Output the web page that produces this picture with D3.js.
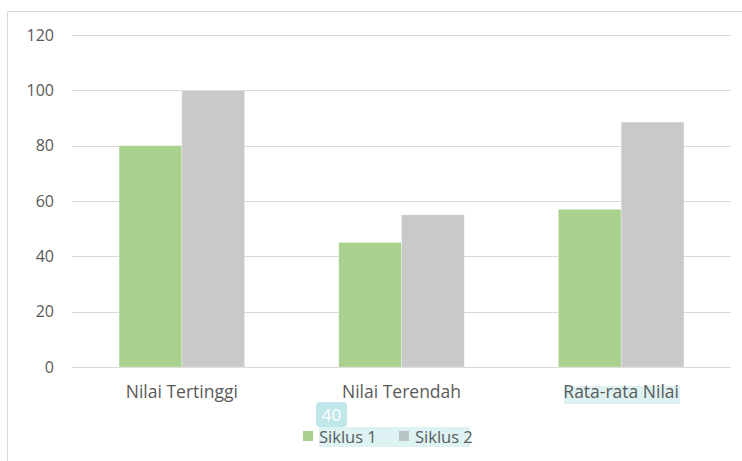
<!DOCTYPE html>
<html>
<head>
<meta charset="utf-8">
<script src="https://cdn.jsdelivr.net/npm/d3@7"></script>
<style>
  body { margin: 0; background: #fff; }
  svg { display: block; font-family: "Open Sans", "Liberation Sans", sans-serif; }
</style>
</head>
<body>
<svg width="742" height="461"></svg>
<script>
var categories = ["Nilai Tertinggi", "Nilai Terendah", "Rata-rata Nilai"];
var seriesNames = ["Siklus 1", "Siklus 2"];
var siklus1 = [80, 45, 57];
var siklus2 = [100, 55, 88.5];
var yTicks = [0, 20, 40, 60, 80, 100, 120];
var colors = ["#a9d18e", "#c9c9c9"];

var svg = d3.select("svg"),
  width = +svg.attr("width"),
  height = +svg.attr("height");
var font = "'Open Sans', 'Liberation Sans', sans-serif";

// chart frame (cut off on right and bottom)
svg.append("path")
  .attr("d", "M7.5,461 V11.5 H742")
  .attr("fill", "none")
  .attr("stroke", "#d9d9d9");

var plotL = 72, plotR = 731, plotT = 35, plotB = 367;

var x0 = d3.scaleBand().domain(categories).range([plotL, plotR]);
// gap width 150%: two bars take 2/(2+1.5) of the band
var inner = x0.bandwidth() * 2 / 3.5;
var x1 = d3.scaleBand().domain(seriesNames).range([0, inner]);
var y = d3.scaleLinear().domain([0, 120]).range([plotB, plotT]);

var grid = svg.append("g");
grid.selectAll("line")
  .data(yTicks)
  .enter().append("line")
  .attr("x1", plotL).attr("x2", plotR)
  .attr("y1", function(d) { return Math.round(y(d)) + 0.5; })
  .attr("y2", function(d) { return Math.round(y(d)) + 0.5; })
  .attr("stroke", "#d9d9d9")
  .attr("stroke-width", 1.2);

var yAxis = svg.append("g")
  .attr("transform", "translate(54,0)")
  .call(d3.axisLeft(y).tickValues(yTicks).tickSize(0).tickPadding(0));
yAxis.attr("font-family", font);
yAxis.select(".domain").remove();
yAxis.selectAll("text")
  .attr("fill", "#595959")
  .style("font-size", "16px");

var rows = categories.map(function(c, i) {
  return { cat: c, vals: [siklus1[i], siklus2[i]] };
});

var groups = svg.selectAll(".grp")
  .data(rows)
  .enter().append("g")
  .attr("class", "grp")
  .attr("transform", function(d) {
    return "translate(" + (x0(d.cat) + (x0.bandwidth() - inner) / 2) + ",0)";
  });

groups.selectAll("rect")
  .data(function(d) { return d.vals.map(function(v, j) { return { s: seriesNames[j], v: v, j: j }; }); })
  .enter().append("rect")
  .attr("x", function(d) { return x1(d.s); })
  .attr("width", x1.bandwidth())
  .attr("y", function(d) { return y(d.v); })
  .attr("height", function(d) { return y(0) - y(d.v); })
  .attr("fill", function(d) { return colors[d.j]; })
  .attr("stroke", "#fff")
  .attr("stroke-opacity", 0.35)
  .attr("stroke-width", 0.8);

// selection highlight behind the third label
svg.append("rect")
  .attr("x", 564).attr("y", 386).attr("width", 116).attr("height", 18)
  .attr("fill", "#dff2f3");

var xAxis = svg.append("g")
  .attr("transform", "translate(0," + plotB + ")")
  .call(d3.axisBottom(x0).tickSize(0).tickPadding(19));
xAxis.attr("font-family", font);
xAxis.select(".domain").remove();
xAxis.selectAll("text")
  .attr("fill", "#595959")
  .style("font-size", "17.5px");

// legend
var legend = svg.append("g");
legend.append("rect")
  .attr("x", 319).attr("y", 427).attr("width", 151).attr("height", 20)
  .attr("fill", "#dff2f3");
legend.append("rect")
  .attr("x", 316).attr("y", 402).attr("width", 31).attr("height", 25)
  .attr("rx", 4)
  .attr("fill", "#bfe6e8");
legend.append("text")
  .attr("x", 331.5).attr("y", 421)
  .attr("text-anchor", "middle")
  .attr("fill", "#fff")
  .style("font-size", "17px")
  .text("40");

var legendX = [303, 399];
var items = legend.selectAll(".item")
  .data(seriesNames)
  .enter().append("g")
  .attr("class", "item")
  .attr("transform", function(d, i) { return "translate(" + legendX[i] + ",431)"; });
items.append("rect")
  .attr("width", 10).attr("height", 10)
  .attr("fill", function(d, i) { return i === 1 ? "#b8c6c6" : colors[i]; });
items.append("text")
  .attr("x", 16).attr("y", 12)
  .attr("fill", "#55605f")
  .style("font-size", "16.5px")
  .text(function(d) { return d; });
</script>
</body>
</html>
